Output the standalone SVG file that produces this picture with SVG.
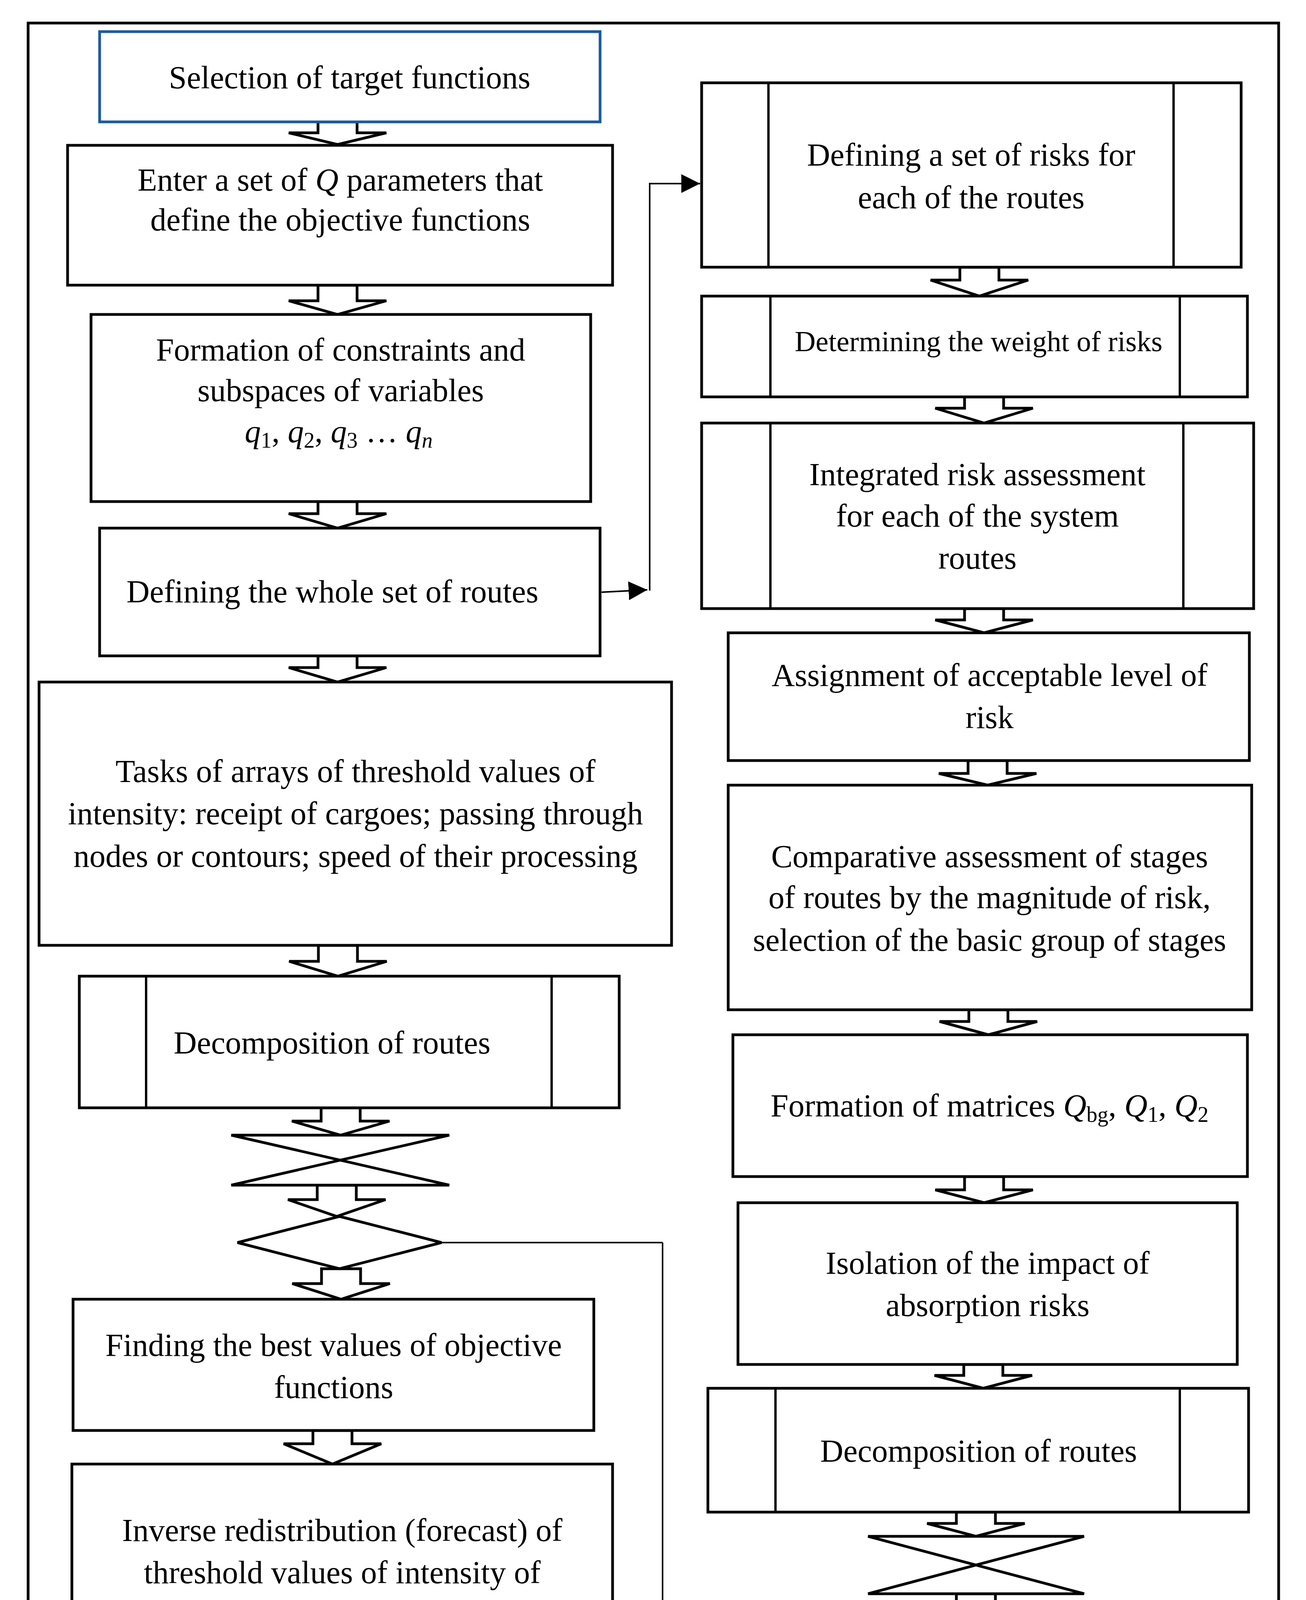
<svg xmlns="http://www.w3.org/2000/svg" width="3343" height="5347" viewBox="0 0 3343 5347">
<defs>
<style>
.box{fill:#fff;stroke:#000;stroke-width:7}
.sel{fill:#fff;stroke:#1a5a9e;stroke-width:7}
.inner{stroke:#000;stroke-width:6;fill:none}
.ba{fill:#fff;stroke:#000;stroke-width:7;stroke-linejoin:miter}
.ln{fill:none;stroke:#000;stroke-width:4}
.t{font-family:"Liberation Serif","Times New Roman",serif;font-size:82px;fill:#000;text-anchor:middle}
.s{font-size:74px}
.i{font-style:italic}
</style>
<marker id="ah" viewBox="0 0 10 10" refX="10" refY="5" markerUnits="userSpaceOnUse" markerWidth="48" markerHeight="48" orient="auto">
<path d="M0,0 L10,5 L0,10 z" fill="#000"/>
</marker>
</defs>
<rect width="3343" height="5347" fill="#fff"/>
<rect x="72" y="59" width="3201" height="5243" fill="none" stroke="#000" stroke-width="7"/>

<g id="connectors">
<polygon class="ba" points="814,312 814,340 739,340 864,370 989,340 914,340 914,312"/>
<polygon class="ba" points="814,730 814,770 739,770 864,805 989,770 914,770 914,730"/>
<polygon class="ba" points="814,1284 814,1315 739,1315 864,1352 989,1315 914,1315 914,1284"/>
<polygon class="ba" points="814,1679 814,1709 739,1709 864,1746 989,1709 914,1709 914,1679"/>
<polygon class="ba" points="815,2420 815,2461 740,2461 865,2499 990,2461 915,2461 915,2420"/>
<polygon class="ba" points="822,2836 822,2870 747,2870 872,2906 997,2870 922,2870 922,2836"/>
<polygon class="ba" points="812,3034 812,3071 737,3071 862,3114 987,3071 912,3071 912,3034"/>
<polygon class="ba" points="823,3248 823,3286 748,3286 873,3326 998,3286 923,3286 923,3248"/>
<polygon class="ba" points="801,3662 801,3696 726,3696 851,3748 976,3696 901,3696 901,3662"/>
<polygon class="ba" points="809,4404 809,4439 734,4439 859,4470 984,4439 909,4439 909,4404"/>
<polygon class="ba" points="811,4948 811,4985 736,4985 861,5031 986,4985 911,4985 911,4948"/>

<polygon class="ba" points="2457,684 2457,717 2382,717 2507,758 2632,717 2557,717 2557,684"/>
<polygon class="ba" points="2469,1016 2469,1045 2394,1045 2519,1083 2644,1045 2569,1045 2569,1016"/>
<polygon class="ba" points="2469,1558 2469,1587 2394,1587 2519,1620 2644,1587 2569,1587 2569,1558"/>
<polygon class="ba" points="2478,1947 2478,1980 2403,1980 2528,2010 2653,1980 2578,1980 2578,1947"/>
<polygon class="ba" points="2480,2585 2480,2615 2405,2615 2530,2649 2655,2615 2580,2615 2580,2585"/>
<polygon class="ba" points="2469,3012 2469,3046 2394,3046 2519,3079 2644,3046 2569,3046 2569,3012"/>
<polygon class="ba" points="2467,3493 2467,3521 2392,3521 2517,3554 2642,3521 2567,3521 2567,3493"/>
<polygon class="ba" points="2448,3871 2448,3900 2373,3900 2498,3933 2623,3900 2548,3900 2548,3871"/>
<polygon class="ba" points="2448,4080 2448,4107 2373,4107 2498,4143 2623,4107 2548,4107 2548,4080"/>

<path class="ln" d="M1540,1516 L1657,1510" marker-end="url(#ah)"/>
<path class="ln" d="M1663,1512 V470 H1792" marker-end="url(#ah)"/>
<path class="ln" d="M1130,3181 H1696 M1696,3181 V4262 M1690,4238 H2500 V4150"/>
</g>

<g id="n-selection">
<rect class="sel" x="255" y="81" width="1281" height="231"/>
<text class="t" x="895" y="226">Selection of target functions</text>
</g>
<g id="n-enter">
<rect class="box" x="173" y="372" width="1395" height="358"/>
<text class="t" x="871" y="488">Enter a set of <tspan class="i">Q</tspan> parameters that</text>
<text class="t" x="871" y="590">define the objective functions</text>
</g>
<g id="n-formation">
<rect class="box" x="233" y="805" width="1279" height="479"/>
<text class="t" x="872" y="923">Formation of constraints and</text>
<text class="t" x="872" y="1027">subspaces of variables</text>
<text class="t" x="867" y="1132"><tspan class="i">q</tspan><tspan font-size="56" dy="14">1</tspan><tspan dy="-14">, </tspan><tspan class="i">q</tspan><tspan font-size="56" dy="14">2</tspan><tspan dy="-14">, </tspan><tspan class="i">q</tspan><tspan font-size="56" dy="14">3</tspan><tspan dy="-14"> … </tspan><tspan class="i">q</tspan><tspan class="i" font-size="56" dy="14">n</tspan></text>
</g>
<g id="n-defall">
<rect class="box" x="255" y="1352" width="1281" height="327"/>
<text class="t" x="851" y="1542">Defining the whole set of routes</text>
</g>
<g id="n-tasks">
<rect class="box" x="100" y="1746" width="1619" height="674"/>
<text class="t" x="910" y="2002">Tasks of arrays of threshold values of</text>
<text class="t" x="910" y="2110">intensity: receipt of cargoes; passing through</text>
<text class="t" x="910" y="2219">nodes or contours; speed of their processing</text>
</g>
<g id="n-decomp-left">
<rect class="box" x="203" y="2499" width="1382" height="337"/>
<line class="inner" x1="374" y1="2499" x2="374" y2="2836"/>
<line class="inner" x1="1412" y1="2499" x2="1412" y2="2836"/>
<text class="t" x="850" y="2697">Decomposition of routes</text>
</g>
<g id="n-merge-left">
<path class="ba" d="M592,2906 H1150 L592,3034 H1150 Z"/>
</g>
<g id="n-decision">
<polygon class="ba" points="869,3114 1130,3181 869,3248 608,3181"/>
</g>
<g id="n-finding">
<rect class="box" x="187" y="3326" width="1333" height="336"/>
<text class="t" x="854" y="3471">Finding the best values of objective</text>
<text class="t" x="854" y="3579">functions</text>
</g>
<g id="n-inverse">
<rect class="box" x="184" y="3748" width="1384" height="656"/>
<text class="t" x="876" y="3945">Inverse redistribution (forecast) of</text>
<text class="t" x="876" y="4053">threshold values of intensity of</text>
<text class="t" x="876" y="4161">passage of cargoes through knots or</text>
<text class="t" x="876" y="4270">contours, speed of their processing</text>
</g>
<g id="n-forecast">
<rect class="box" x="136" y="4470" width="1462" height="478"/>
<text class="t" x="865" y="4630">Forecast of the general cargo turnover,</text>
<text class="t" x="865" y="4735">and cargo turnover by its types for</text>
<text class="t" x="865" y="4844">separate knots of system</text>
</g>
<g id="n-end">
<rect class="box" x="618" y="5031" width="501" height="271" rx="72" ry="135"/>
<text class="t" x="866" y="5196">End</text>
</g>

<g id="n-risks">
<rect class="box" x="1796" y="212" width="1381" height="472"/>
<line class="inner" x1="1967" y1="212" x2="1967" y2="684"/>
<line class="inner" x1="3004" y1="212" x2="3004" y2="684"/>
<text class="t" x="2486" y="424">Defining a set of risks for</text>
<text class="t" x="2486" y="533">each of the routes</text>
</g>
<g id="n-weight">
<rect class="box" x="1796" y="758" width="1397" height="258"/>
<line class="inner" x1="1972" y1="758" x2="1972" y2="1016"/>
<line class="inner" x1="3020" y1="758" x2="3020" y2="1016"/>
<text class="t s" x="2505" y="899">Determining the weight of risks</text>
</g>
<g id="n-integrated">
<rect class="box" x="1796" y="1083" width="1413" height="475"/>
<line class="inner" x1="1972" y1="1083" x2="1972" y2="1558"/>
<line class="inner" x1="3029" y1="1083" x2="3029" y2="1558"/>
<text class="t" x="2502" y="1242">Integrated risk assessment</text>
<text class="t" x="2502" y="1348">for each of the system</text>
<text class="t" x="2502" y="1456">routes</text>
</g>
<g id="n-assign">
<rect class="box" x="1864" y="1620" width="1334" height="327"/>
<text class="t" x="2533" y="1756">Assignment of acceptable level of</text>
<text class="t" x="2533" y="1864">risk</text>
</g>
<g id="n-compare">
<rect class="box" x="1864" y="2010" width="1340" height="575"/>
<text class="t" x="2533" y="2220">Comparative assessment of stages</text>
<text class="t" x="2533" y="2325">of routes by the magnitude of risk,</text>
<text class="t" x="2533" y="2434">selection of the basic group of stages</text>
</g>
<g id="n-matrices">
<rect class="box" x="1876" y="2649" width="1317" height="363"/>
<text class="t" x="2533" y="2858">Formation of matrices <tspan class="i">Q</tspan><tspan font-size="56" dy="14">bg</tspan><tspan dy="-14">, </tspan><tspan class="i">Q</tspan><tspan font-size="56" dy="14">1</tspan><tspan dy="-14">, </tspan><tspan class="i">Q</tspan><tspan font-size="56" dy="14">2</tspan></text>
</g>
<g id="n-isolation">
<rect class="box" x="1889" y="3079" width="1278" height="414"/>
<text class="t" x="2528" y="3261">Isolation of the impact of</text>
<text class="t" x="2528" y="3369">absorption risks</text>
</g>
<g id="n-decomp-right">
<rect class="box" x="1812" y="3554" width="1384" height="317"/>
<line class="inner" x1="1985" y1="3554" x2="1985" y2="3871"/>
<line class="inner" x1="3020" y1="3554" x2="3020" y2="3871"/>
<text class="t" x="2505" y="3742">Decomposition of routes</text>
</g>
<g id="n-merge-right">
<path class="ba" d="M2222,3933 H2775 L2222,4080 H2775 Z"/>
</g>
</svg>
